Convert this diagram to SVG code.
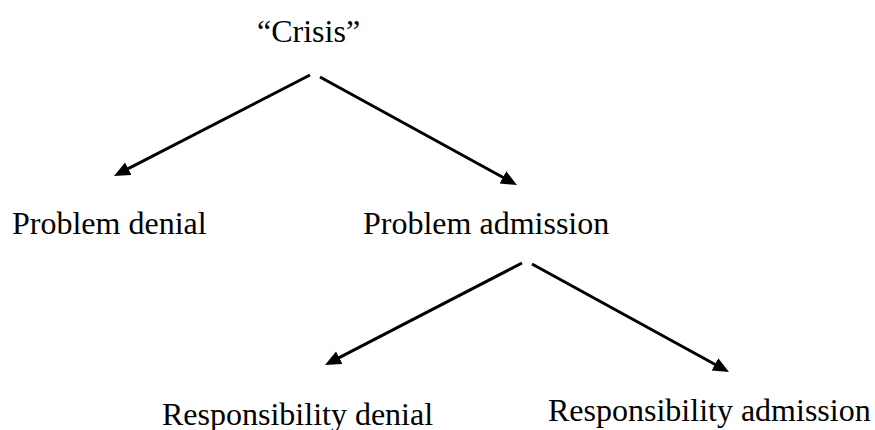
<svg xmlns="http://www.w3.org/2000/svg" width="875" height="430" viewBox="0 0 875 430">
<style>
.t{font-family:"Liberation Serif","Times New Roman",serif;font-size:32px;fill:#000}
.c{stroke:#000;stroke-width:3;fill:none}
</style>
<defs>
<marker id="ah" markerUnits="userSpaceOnUse" markerWidth="18" markerHeight="16" refX="6" refY="7" orient="auto">
<path d="M0,0 L16,7 L0,14 z" fill="#000"/>
</marker>
</defs>
<rect width="875" height="430" fill="#fff"/>
<g id="connectors">
<line class="c" x1="310" y1="75" x2="122.9" y2="171.4" marker-end="url(#ah)"/>
<line class="c" x1="320" y1="77" x2="508.2" y2="180.2" marker-end="url(#ah)"/>
<line class="c" x1="522" y1="263" x2="333.9" y2="360.4" marker-end="url(#ah)"/>
<line class="c" x1="532" y1="264" x2="720.2" y2="367.2" marker-end="url(#ah)"/>
</g>
<g id="crisis"><text class="t" x="257" y="42">“Crisis”</text></g>
<g id="problem-denial"><text class="t" x="12" y="234">Problem denial</text></g>
<g id="problem-admission"><text class="t" x="363" y="234">Problem admission</text></g>
<g id="responsibility-denial"><text class="t" x="162" y="425">Responsibility denial</text></g>
<g id="responsibility-admission"><text class="t" x="548" y="421">Responsibility admission</text></g>
</svg>
